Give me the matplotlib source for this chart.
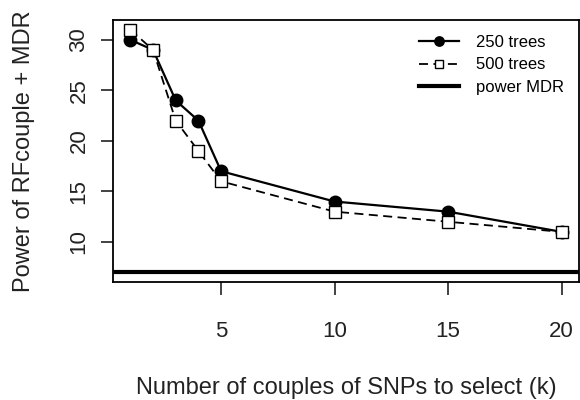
import matplotlib
matplotlib.use("Agg")
import matplotlib.pyplot as plt

plt.rcParams['font.family'] = ['Liberation Sans', 'DejaVu Sans']

k = [1, 2, 3, 4, 5, 10, 15, 20]
trees250 = [30, 29, 24, 22, 17, 14, 13, 11]
trees500 = [31, 29, 22, 19, 16, 13, 12, 11]
power_mdr = 7

fig = plt.figure(figsize=(5.8, 4.0), dpi=100)
ax = fig.add_axes([0.195, 0.295, 0.803, 0.655])

ax.plot(k, trees250, '-', color='black', lw=1.6, marker='o', ms=9, label='250 trees')
ax.plot(k, trees500, '--', color='black', lw=1.3, marker='s', ms=8, mfc='white', mew=1.0,
        dashes=(5, 3), label='500 trees')
ax.axhline(power_mdr, color='black', lw=3, label='power MDR')

ax.set_xlim(0.24, 20.76)
ax.set_ylim(6.04, 31.96)
ax.set_xticks([5, 10, 15, 20])
ax.set_yticks([10, 15, 20, 25, 30])
ax.tick_params(direction='out', length=9, width=1.2, labelsize=16, pad=8, colors='#222222')
ax.tick_params(axis='x', pad=19)
for lab in ax.get_yticklabels():
    lab.set_rotation(90)
    lab.set_va('center')
for s in ax.spines.values():
    s.set_linewidth(1.3)

ax.set_xlabel('Number of couples of SNPs to select (k)', fontsize=17, labelpad=25, color='#222222')
ax.set_ylabel('Power of RFcouple + MDR', fontsize=17, labelpad=24, color='#222222')

ax.legend(loc='upper right', frameon=False, fontsize=12, handlelength=2.4,
          labelspacing=0.45, borderaxespad=0.5, handletextpad=1.0, markerscale=0.75)

fig.savefig('out.png', dpi=100)
